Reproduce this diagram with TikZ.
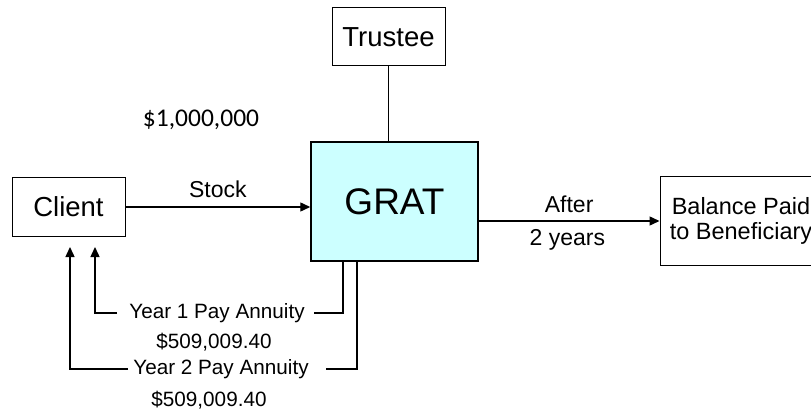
\documentclass[tikz,border=0pt]{standalone}
\usepackage{fontspec}
\setmainfont{Liberation Sans}
\newfontfamily\calfont{Carlito}
\usetikzlibrary{arrows.meta}
\begin{document}
\begin{tikzpicture}[x=1pt,y=-1pt,
  box/.style={draw=black,line width=1pt,inner sep=0pt,align=center},
  conn/.style={line width=1.4pt},
  arr/.style={conn,-{Triangle[length=10pt,width=9pt]}},
  lbl/.style={inner sep=0pt,font=\fontsize{23}{26}\selectfont},
  small/.style={inner sep=0pt,font=\fontsize{20.7}{24}\selectfont}]
\useasboundingbox (0,0) rectangle (811,414);
\node[box,minimum width=113pt,minimum height=58pt,font=\fontsize{27.5}{30}\selectfont] (client) at (68.5,207) {Client};
\node[box,minimum width=113pt,minimum height=58pt,font=\fontsize{27.5}{30}\selectfont] (trustee) at (388.5,37) {Trustee};
\node[box,line width=1.5pt,fill={rgb,255:red,204;green,255;blue,255},minimum width=167pt,minimum height=119pt,font=\fontsize{37}{40}\selectfont] (grat) at (394.5,201.5) {GRAT};
\node[box,minimum width=162pt,minimum height=88pt,font=\fontsize{23.5}{25}\selectfont] (bal) at (741,221) {Balance Paid\\to Beneficiary};
\node[inner sep=0pt,font=\calfont\fontsize{25.5}{28}\selectfont] (amt) at (201,120) {\$1,000,000};
% stock
\draw[arr] (client.east) -- (client.east -| grat.west) node[lbl,midway,above=9pt] (stock) {Stock};
% trustee
\draw[conn] (trustee.south) -- (trustee.south |- grat.north);
% after
\draw[arr] (grat.east |- bal.west) -- (bal.west)
  node[lbl,pos=0.5,above=8pt] (after) {After}
  node[lbl,pos=0.49,below=8pt] (yrs) {2 years};
% annuities
\coordinate (g1) at (343,261);
\coordinate (g2) at (357,261);
\coordinate (a1) at (95,247);
\coordinate (a2) at (70,247);
\node[small] (y1) at (217,313) {Year 1 Pay Annuity};
\node[small] (y2) at (221,369) {Year 2 Pay Annuity};
\node[small] (v1) at (214,342) {\$509,009.40};
\node[small] (v2) at (209,400) {\$509,009.40};
\draw[conn] (g1 |- grat.south) |- ([xshift=9pt]y1.east);
\draw[arr] ([xshift=-12pt]y1.west) -| (a1);
\draw[conn] (g2 |- grat.south) |- ([xshift=17pt]y2.east);
\draw[arr] ([xshift=-5pt]y2.west) -| (a2);
\end{tikzpicture}
\end{document}
